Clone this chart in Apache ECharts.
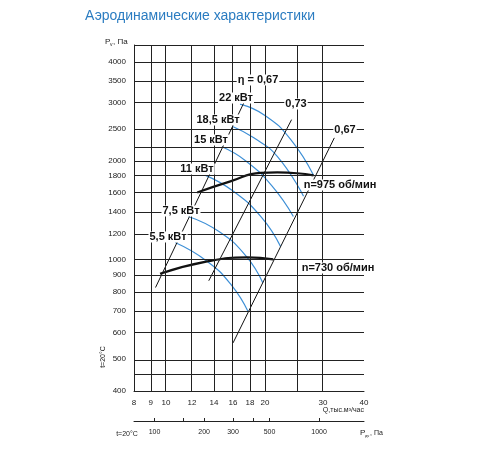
<!DOCTYPE html>
<html><head><meta charset="utf-8">
<script src="https://cdn.jsdelivr.net/npm/echarts@6/dist/echarts.min.js"></script>
<style>html,body{margin:0;background:#fff}#c{width:500px;height:450px}</style>
</head><body><div id="c"></div>
<script>
const qTicks=[8,9,10,12,14,16,18,20,30,40];
const qGrid=[9,10,12,14,16,18,20,25,30,40];
const pTicks=[400,500,600,700,800,900,1000,1200,1400,1600,1800,2000,2500,3000,3500,4000];
const pGrid=[450,500,600,700,800,900,1000,1200,1400,1600,1800,2000,2200,2500,3000,3500,4000,4500];
const pdvTicks=[100,150,200,300,400,500,1000];
const pdvLabels=['100','','200','300','','500','1000'];
const n975=[[12.45,1604],[15.7,1733],[19.4,1840],[21.8,1845],[25,1835],[28.1,1808]];
const n730=[[9.6,908],[13.36,990],[17.7,1018],[21.2,1004]];
const kw22=[[16.8,2975],[20,2750],[23.9,2330],[28.1,1808]];
const kw185=[[15.9,2550],[18.5,2350],[21.8,2065],[26.2,1563]];
const kw15=[[14.8,2208],[17.5,2000],[21,1680],[24.4,1356]];
const kw11=[[13.2,1808],[16,1620],[19.5,1350],[22.3,1100]];
const kw75=[[11.7,1356],[14.5,1220],[17.5,1030],[19.7,853]];
const kw55=[[10.67,1130],[13.36,990],[15.8,840],[17.8,695]];
const eta067a=[[9.3,825],[17.3,3020]];
const eta073=[[13.5,865],[24.1,2670]];
const eta067b=[[16.0,560],[32.5,2350]];
const L=v=>Math.log(v);
const tr=a=>a.map(p=>[L(p[0]),L(p[1])]);
const ch=echarts.init(document.getElementById('c'));
const F='Liberation Sans, Arial, sans-serif';
const blue=(d)=>({type:'line',data:tr(d),smooth:true,symbol:'none',lineStyle:{color:'#3d8fd6',width:1.2},z:3});
const blk=(d,w)=>({type:'line',data:tr(d),smooth:true,symbol:'none',lineStyle:{color:'#111',width:w},z:4});
const ann=(t,x,y,o)=>Object.assign({type:'text',x:x,y:y,style:{text:t,font:'bold 11px '+F,fill:'#111',backgroundColor:'#fff',padding:[0,1],align:'center',verticalAlign:'middle'},z:100},o||{});
ch.setOption({
 animation:false,
 grid:{left:134,right:136,top:45,bottom:59},
 xAxis:[{type:'value',min:L(8),max:L(40),splitLine:{show:false},axisLine:{lineStyle:{color:'#222'}},axisTick:{show:false},
   axisLabel:{customValues:qTicks.map(L),formatter:v=>Math.round(Math.exp(v)),fontSize:8,color:'#222',fontFamily:F,margin:8}},
  {type:'value',position:'bottom',offset:30,min:L(8),max:L(40),splitLine:{show:false},axisLine:{lineStyle:{color:'#222'}},
   axisTick:{show:true,inside:true,length:3,customValues:pdvTicks.map(p=>L(16*Math.sqrt(p/300))),lineStyle:{color:'#222'}},
   axisLabel:{customValues:pdvTicks.map(p=>L(16*Math.sqrt(p/300))),formatter:v=>{const p=Math.round(300*Math.pow(Math.exp(v)/16,2)/50)*50;return pdvLabels[pdvTicks.indexOf(p)]||'';},fontSize:7,color:'#222',fontFamily:F,margin:8}}],
 yAxis:{type:'value',min:L(400),max:L(4500),splitLine:{show:false},axisLine:{show:true,lineStyle:{color:'#222'}},axisTick:{show:false},
   axisLabel:{customValues:pTicks.map(L),formatter:v=>Math.round(Math.exp(v)),fontSize:8,color:'#222',fontFamily:F,margin:8}},
 series:[
  {type:'line',data:[],markLine:{silent:true,symbol:'none',label:{show:false},lineStyle:{color:'#222',width:1,type:'solid'},
    data:qGrid.map(q=>({xAxis:L(q)})).concat(pGrid.map(p=>({yAxis:L(p)})))},z:1},
  blue(kw22),blue(kw185),blue(kw15),blue(kw11),blue(kw75),blue(kw55),
  blk(n975,2.2),blk(n730,2.2),
  {type:'line',data:tr(eta067a),symbol:'none',lineStyle:{color:'#111',width:1},z:4},
  {type:'line',data:tr(eta073),symbol:'none',lineStyle:{color:'#111',width:1},z:4},
  {type:'line',data:tr(eta067b),symbol:'none',lineStyle:{color:'#111',width:1},z:4}
 ],
 graphic:[
  {type:'text',x:200,y:16,style:{text:'Аэродинамические характеристики',font:'14px '+F,fill:'#2b7cc1',align:'center',verticalAlign:'middle'}},
  {type:'text',x:105,y:42,style:{text:'P',font:'8px '+F,fill:'#222',verticalAlign:'middle'}},
  {type:'text',x:110,y:45,style:{text:'v',font:'5px '+F,fill:'#222',verticalAlign:'middle'}},
  {type:'text',x:113,y:42,style:{text:', Па',font:'8px '+F,fill:'#222',verticalAlign:'middle'}},
  {type:'text',x:103,y:357,rotation:Math.PI/2,style:{text:'t=20°C',font:'7px '+F,fill:'#222',align:'center',verticalAlign:'middle'}},
  {type:'text',x:364,y:410,style:{text:'Q,тыс.м³/час',font:'7px '+F,fill:'#222',align:'right',verticalAlign:'middle'}},
  {type:'text',x:127,y:434,style:{text:'t=20°C',font:'7px '+F,fill:'#222',align:'center',verticalAlign:'middle'}},
  {type:'text',x:360,y:433,style:{text:'P',font:'8px '+F,fill:'#222',verticalAlign:'middle'}},
  {type:'text',x:365,y:436,style:{text:'дv',font:'4px '+F,fill:'#222',verticalAlign:'middle'}},
  {type:'text',x:370,y:433,style:{text:', Па',font:'7px '+F,fill:'#222',verticalAlign:'middle'}},
  ann('η = 0,67',258,80),
  ann('22 кВт',236,98),ann('18,5 кВт',218,120),ann('15 кВт',211,140),ann('11 кВт',197,169),
  ann('7,5 кВт',181,211),ann('5,5 кВт',168,237),
  ann('0,73',296,104),ann('0,67',345,130),
  ann('n=975 об/мин',340,185,{style:{text:'n=975 об/мин',font:'bold 11px '+F,fill:'#111',backgroundColor:'#fff',align:'center',verticalAlign:'middle'}}),
  ann('n=730 об/мин',338,268,{style:{text:'n=730 об/мин',font:'bold 11px '+F,fill:'#111',backgroundColor:'#fff',align:'center',verticalAlign:'middle'}})
 ]
});
</script></body></html>
